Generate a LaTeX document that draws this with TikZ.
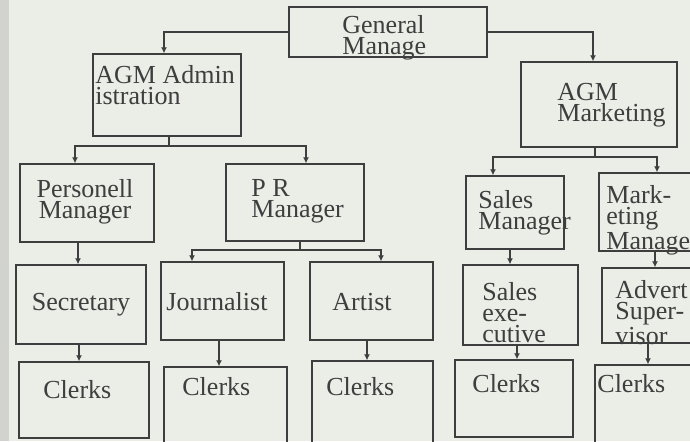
\documentclass[tikz,border=0pt]{standalone}
\usepackage{fontspec}
\setmainfont{Liberation Serif}
\usetikzlibrary{fit,arrows.meta}
\definecolor{ink}{HTML}{3E3E3E}
\definecolor{paper}{HTML}{EBEDE7}
\definecolor{edgestrip}{HTML}{D2D3CF}
\begin{document}
\begin{tikzpicture}[x=0.5pt,y=-0.5pt,
  box/.style={draw=ink, line width=0.7pt, inner sep=0pt},
  lbl/.style={inner sep=0pt, anchor=north west, align=left, text=ink, font=\fontsize{13}{10.5}\selectfont},
  clbl/.style={lbl, anchor=north, align=center},
  conn/.style={draw=ink, line width=0.6pt},
  arr/.style={conn, -{Latex[length=3pt,width=3pt]}}]
\useasboundingbox (0,0) rectangle (690,441);
\clip (0,0) rectangle (690,441);
\fill[paper] (0,0) rectangle (690,441);
\fill[edgestrip] (0,0) rectangle (9,441);

% boxes
\node[box, fit={(289,7)(487,57)}] (gm) {};
\node[box, fit={(93,54)(241,136)}] (agma) {};
\node[box, fit={(521,62)(677,147)}] (agmm) {};
\node[box, fit={(20,164)(154,242)}] (pm) {};
\node[box, fit={(226,164)(364,241)}] (pr) {};
\node[box, fit={(466,176)(564,249)}] (sm) {};
\node[box, fit={(599,173)(700,251)}] (mm) {};
\node[box, fit={(16,265)(146,344)}] (sec) {};
\node[box, fit={(161,262)(284,340)}] (jou) {};
\node[box, fit={(310,262)(433,340)}] (art) {};
\node[box, fit={(463,265)(578,345)}] (se) {};
\node[box, fit={(602,268)(700,343)}] (adv) {};
\node[box, fit={(19,362)(149,438)}] (c1) {};
\node[box, fit={(164,367)(287,450)}] (c2) {};
\node[box, fit={(312,361)(433,450)}] (c3) {};
\node[box, fit={(455,360)(573,437)}] (c4) {};
\node[box, fit={(595,365)(700,450)}] (c5) {};

% labels
\node[lbl] (gmT) at (342,15) {General\\Manage};
\node[lbl] (agmaT) at (95,65.5) {AGM Admin\\istration};
\node[lbl] (agmmT) at (557,82.5) {AGM\\Marketing};
\node[clbl] (pmT) at (85,179.5) {Personell\\Manager};
\node[lbl] (prT) at (251,179.5) {P R\\Manager};
\node[lbl] (smT) at (478,190.5) {Sales\\Manager};
\node[lbl] (mmT) at (606,185.5) {Mark-\\eting\\Manager};
\node[clbl] (secT) at (81,292.5) {Secretary};
\node[lbl] (jouT) at (166,292.5) {Journalist};
\node[lbl] (artT) at (332,292.5) {Artist};
\node[lbl] (seT) at (482,282.5) {Sales\\exe-\\cutive};
\node[lbl] (advT) at (615,280.5) {Advert\\Super-\\visor};
\node[lbl] (c1T) at (43,380.5) {Clerks};
\node[lbl] (c2T) at (182,377.5) {Clerks};
\node[lbl] (c3T) at (326,377.5) {Clerks};
\node[lbl] (c4T) at (472,374.5) {Clerks};
\node[lbl] (c5T) at (597,374.5) {Clerks};

% junctions
\coordinate (ja) at (169,146);
\coordinate (jp) at (300,250);
\coordinate (jm) at (595,157);

% connectors
\draw[arr] (gm.west) -| (agma.north -| 164,0);
\draw[arr] (gm.east) -| (agmm.north -| 593,0);

\draw[conn] (agma.south -| ja) -- (ja);
\draw[arr] (ja) -| (pm.north -| 75,0);
\draw[arr] (ja) -| (pr.north -| 306,0);

\draw[conn] (agmm.south -| jm) -- (jm);
\draw[arr] (jm) -| (sm.north -| 493,0);
\draw[arr] (jm) -| (mm.north -| 657,0);

\draw[conn] (pr.south -| jp) -- (jp);
\draw[arr] (jp) -| (jou.north -| 192,0);
\draw[arr] (jp) -| (art.north -| 381,0);

\draw[arr] (pm.south -| 78,0) -- (sec.north -| 78,0);
\draw[arr] (sm.south -| 510,0) -- (se.north -| 510,0);
\draw[arr] (mm.south -| 655,0) -- (adv.north -| 655,0);

\draw[arr] (sec.south -| 79,0) -- (c1.north -| 79,0);
\draw[arr] (jou.south -| 219,0) -- (c2.north -| 219,0);
\draw[arr] (art.south -| 367,0) -- (c3.north -| 367,0);
\draw[arr] (se.south -| 517,0) -- (c4.north -| 517,0);
\draw[arr] (adv.south -| 648,0) -- (c5.north -| 648,0);
\end{tikzpicture}
\end{document}
